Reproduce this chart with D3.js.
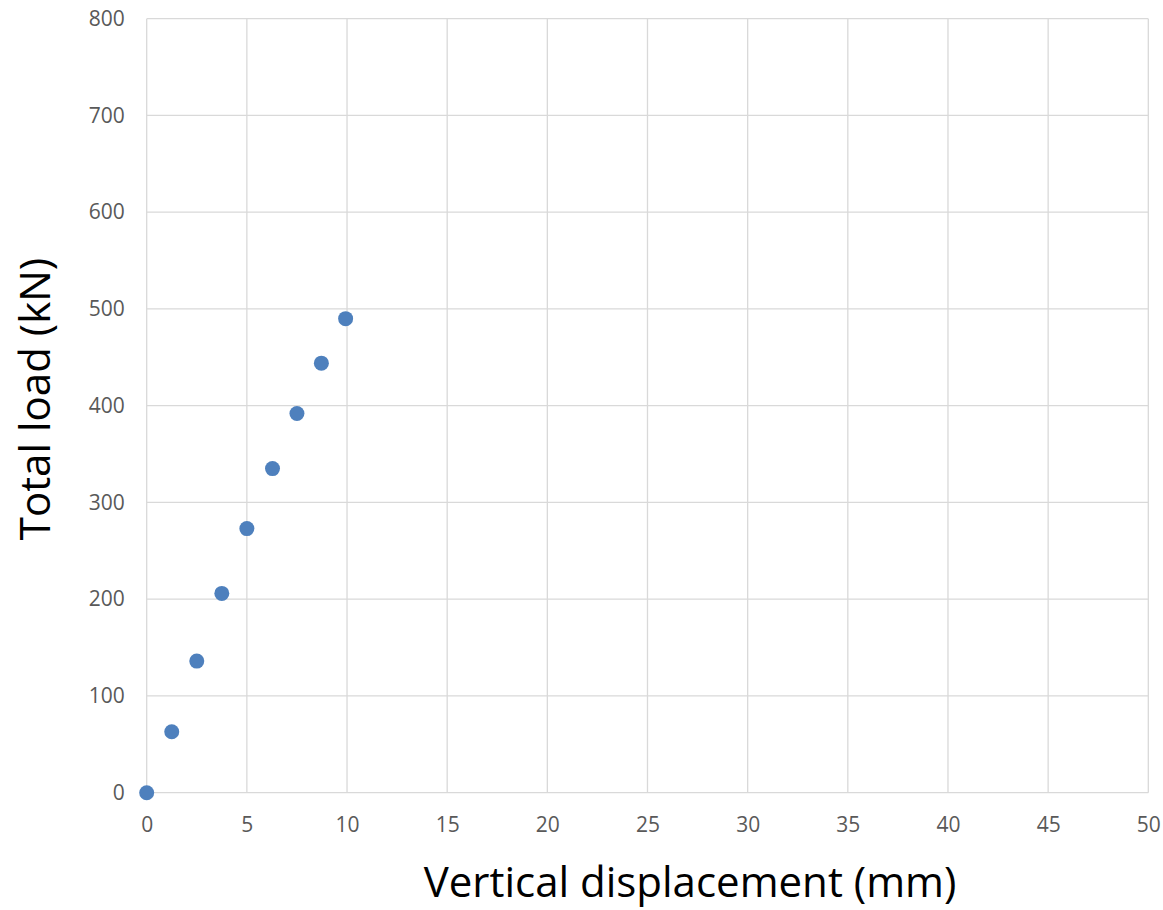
<!DOCTYPE html>
<html><head><meta charset="utf-8">
<script src="https://cdn.jsdelivr.net/npm/d3@7"></script>
<style>body{margin:0;background:#fff}</style>
</head><body>
<svg id="c" width="1163" height="910"></svg>
<script>
const displacement = [0, 1.25, 2.5, 3.75, 5, 6.28, 7.5, 8.72, 9.93];
const load = [0, 63, 136, 206, 273, 335, 392, 444, 490];
const xTicks = [0,5,10,15,20,25,30,35,40,45,50];
const yTicks = [0,100,200,300,400,500,600,700,800];
const xTitle = "Vertical displacement (mm)";
const yTitle = "Total load (kN)";

const svg = d3.select("#c");
const font = "'Open Sans', 'Liberation Sans', sans-serif";
const x = d3.scaleLinear().domain([0,50]).range([146.7,1148.3]);
const y = d3.scaleLinear().domain([0,800]).range([792.7,18.7]);

const g = svg.append("g");
g.selectAll(".vg").data(xTicks).join("line")
  .attr("x1",d=>x(d)).attr("x2",d=>x(d)).attr("y1",y(0)).attr("y2",y(800))
  .attr("stroke","#d9d9d9").attr("stroke-width",1.3);
g.selectAll(".hg").data(yTicks).join("line")
  .attr("x1",x(0)).attr("x2",x(50)).attr("y1",d=>y(d)).attr("y2",d=>y(d))
  .attr("stroke","#d9d9d9").attr("stroke-width",1.3);

const xAxis = svg.append("g").attr("transform",`translate(0,${y(0)})`)
  .call(d3.axisBottom(x).tickValues(xTicks).tickSize(0).tickPadding(24.5));
xAxis.select(".domain").remove();
xAxis.selectAll("text").attr("font-family",font).attr("font-size",21).attr("fill","#595959");

const yAxis = svg.append("g").attr("transform",`translate(${x(0)},0)`)
  .call(d3.axisLeft(y).tickValues(yTicks).tickSize(0).tickPadding(22));
yAxis.select(".domain").remove();
yAxis.selectAll("text").attr("font-family",font).attr("font-size",21).attr("fill","#595959");

svg.append("g").selectAll("circle").data(displacement.map((d,i)=>[d,load[i]])).join("circle")
  .attr("cx",d=>x(d[0])).attr("cy",d=>y(d[1])).attr("r",7.5).attr("fill","#4e80bd");

svg.append("text").attr("x",690).attr("y",897).attr("text-anchor","middle")
  .attr("font-family",font).attr("font-size",42).attr("fill","#000").text(xTitle);
svg.append("text").attr("transform","translate(50,399) rotate(-90)").attr("text-anchor","middle")
  .attr("font-family",font).attr("font-size",42).attr("fill","#000").text(yTitle);
</script>
</body></html>
